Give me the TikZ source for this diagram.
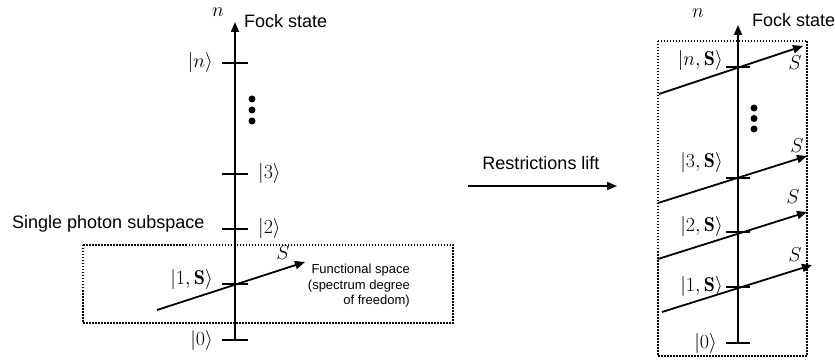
\documentclass[tikz,border=0pt]{standalone}
\usepackage{fix-cm}
\usepackage{fontspec}
\newfontfamily\hv{Liberation Sans}
\usetikzlibrary{arrows.meta}
\begin{document}
\begin{tikzpicture}[x=1pt,y=-1pt,
  axisline/.style={line width=1.8pt,-{Triangle[length=10pt,width=8pt]}},
  tickline/.style={line width=1.8pt},
  sarrow/.style={line width=1.8pt,-{Triangle[length=10pt,width=8pt]}},
  dotbox/.style={line width=1.5pt,dash pattern=on 1.5pt off 1.5pt},
  mlab/.style={font=\fontsize{20}{24}\selectfont,inner sep=0pt},
  tlab/.style={font=\hv\fontsize{18}{21}\selectfont,inner sep=0pt},
  slab/.style={font=\hv\fontsize{13}{15.5}\selectfont,inner sep=0pt,align=right},
  bigdot/.style={circle,fill=black,inner sep=0pt,minimum size=7pt}]
\useasboundingbox (0,0) rectangle (835,363);

% ---------- left diagram ----------
\coordinate (Lbot) at (235,340);
\coordinate (Ltop) at (235,22);
\draw[axisline] (Lbot) -- (Ltop);
\foreach \y/\nm in {63/Ln,174/L3,229/L2,284/L1,340/L0}{
  \coordinate (\nm) at (235,\y);
  \draw[tickline] ([xshift=-13pt]\nm) -- ([xshift=13pt]\nm);
}
\node[mlab] (nl) at (218,12) {$n$};
\node[tlab,anchor=west] (fockl) at (244,21) {Fock state};
\node[mlab,anchor=east] (lnl) at (213,63) {$|n\rangle$};
\node[mlab,anchor=west] (l3l) at (258,174) {$|3\rangle$};
\node[mlab,anchor=west] (l2l) at (258,229) {$|2\rangle$};
\node[mlab,anchor=east] (l1l) at (213,280) {$|1,\mathbf{S}\rangle$};
\node[mlab,anchor=east] (l0l) at (213,340) {$|0\rangle$};
\node[bigdot] (ld1) at (252,99) {};
\node[bigdot] (ld2) at (252,110) {};
\node[bigdot] (ld3) at (252,121) {};
\node[tlab,anchor=west] (single) at (12,224) {Single photon subspace};
\draw[dotbox] (83,245) rectangle (453,323);
\coordinate (LSa) at (157,310);
\coordinate (LSb) at (305,262);
\draw[sarrow] (LSa) -- (LSb);
\node[mlab] (lS) at (283,253) {$S$};
\node[slab,anchor=east] (func) at (410,286) {Functional space\\(spectrum degree\\of freedom)};

% ---------- middle ----------
\node[tlab] (restr) at (541,163) {Restrictions lift};
\coordinate (Ma) at (468,186);
\coordinate (Mb) at (617,186);
\draw[sarrow] (Ma) -- (Mb);

% ---------- right diagram ----------
\coordinate (Rbot) at (738,343);
\coordinate (Rtop) at (738,25);
\draw[axisline] (Rbot) -- (Rtop);
\foreach \y/\nm in {67/Rn,178/R3,232/R2,287/R1,343/R0}{
  \coordinate (\nm) at (738,\y);
  \draw[tickline] ([xshift=-12pt]\nm) -- ([xshift=12pt]\nm);
}
\draw[dotbox] (658,41) rectangle (807,356);
\node[mlab] (nr) at (698,13) {$n$};
\node[tlab,anchor=west] (fockr) at (752,20) {Fock state};
\node[bigdot] (rd1) at (754,108) {};
\node[bigdot] (rd2) at (754,118.5) {};
\node[bigdot] (rd3) at (754,129) {};
\coordinate (RnA) at (659,94);  \coordinate (RnB) at (803,46);
\coordinate (R3A) at (658,203); \coordinate (R3B) at (807,156);
\coordinate (R2A) at (658,259); \coordinate (R2B) at (807,212);
\coordinate (R1A) at (662,312); \coordinate (R1B) at (812,265);
\draw[sarrow] (RnA) -- (RnB);
\draw[sarrow] (R3A) -- (R3B);
\draw[sarrow] (R2A) -- (R2B);
\draw[sarrow] (R1A) -- (R1B);
\node[mlab] (rSn) at (795,63) {$S$};
\node[mlab] (rS3) at (797,146) {$S$};
\node[mlab] (rS2) at (793,197) {$S$};
\node[mlab] (rS1) at (795,255) {$S$};
\node[mlab,anchor=east] (rnl) at (723,61) {$|n,\mathbf{S}\rangle$};
\node[mlab,anchor=east] (r3l) at (723,163) {$|3,\mathbf{S}\rangle$};
\node[mlab,anchor=east] (r2l) at (723,227) {$|2,\mathbf{S}\rangle$};
\node[mlab,anchor=east] (r1l) at (723,286) {$|1,\mathbf{S}\rangle$};
\node[mlab,anchor=east] (r0l) at (717,343) {$|0\rangle$};
\end{tikzpicture}
\end{document}
